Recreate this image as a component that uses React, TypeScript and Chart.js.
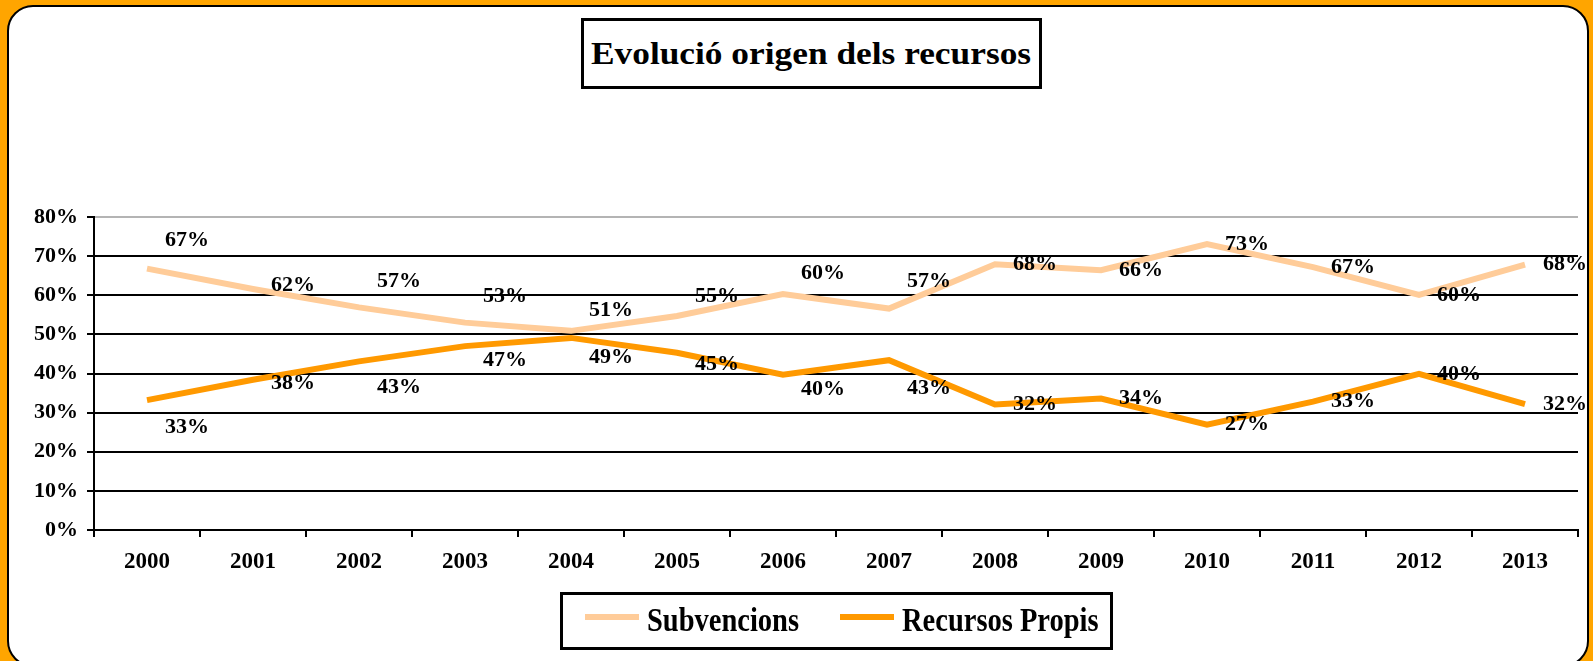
import React, { useEffect, useRef } from "react";
import { Chart, registerables } from "chart.js";

Chart.register(...registerables);

const YEARS = ["2000", "2001", "2002", "2003", "2004", "2005", "2006", "2007", "2008", "2009", "2010", "2011", "2012", "2013"];
const SUBVENCIONS = [66.8, 61.6, 56.9, 53.0, 50.9, 54.7, 60.3, 56.6, 67.9, 66.4, 73.1, 67.2, 60.1, 67.8];
const RECURSOS_PROPIS = [33.2, 38.4, 43.1, 47.0, 49.1, 45.3, 39.7, 43.4, 32.1, 33.6, 26.9, 32.8, 39.9, 32.2];
const SERIES_NAMES = ["Subvencions", "Recursos Propis"];
const TITLE = "Evolució origen dels recursos";

// vertical shift of each data label (label layout, px)
const SUB_LABEL_SHIFT = [-28, -4, -26, -26, -21, -20, -21, -27, 0, 0, 0, 0, 0, 0];
const PROPIS_LABEL_SHIFT = [27, 4, 26, 14, 19, 12, 15, 28, 0, 0, 0, 0, 0, 0];

const FONT = "'Liberation Serif', 'Times New Roman', serif";
const C_SUB = "#FFCC99";
const C_PROPIS = "#FF9900";

const labelPlugin = {
  id: "pointLabels",
  afterDatasetsDraw(chart: any) {
    const ctx = chart.ctx;
    const shifts = [SUB_LABEL_SHIFT, PROPIS_LABEL_SHIFT];
    ctx.save();
    ctx.font = `bold 22px ${FONT}`;
    ctx.fillStyle = "#000";
    ctx.textAlign = "center";
    ctx.textBaseline = "middle";
    chart.data.datasets.forEach((ds: any, di: number) => {
      const meta = chart.getDatasetMeta(di);
      meta.data.forEach((pt: any, i: number) => {
        ctx.fillText(Math.round(ds.data[i]) + "%", pt.x + 40, pt.y + shifts[di][i]);
      });
    });
    ctx.restore();
  },
};

export default function App() {
  const ref = useRef<HTMLCanvasElement>(null);

  useEffect(() => {
    if (!ref.current) return;
    const chart = new Chart(ref.current, {
      type: "line",
      data: {
        labels: YEARS,
        datasets: [
          {
            label: SERIES_NAMES[0],
            data: SUBVENCIONS,
            borderColor: C_SUB,
            backgroundColor: C_SUB,
            borderWidth: 6,
            pointRadius: 0,
            tension: 0,
          },
          {
            label: SERIES_NAMES[1],
            data: RECURSOS_PROPIS,
            borderColor: C_PROPIS,
            backgroundColor: C_PROPIS,
            borderWidth: 6,
            pointRadius: 0,
            tension: 0,
          },
        ],
      },
      options: {
        responsive: false,
        animation: false,
        events: [],
        layout: { padding: { left: 0, top: 217, right: 15, bottom: 0 } },
        plugins: {
          legend: { display: false },
          title: { display: false },
          tooltip: { enabled: false },
        },
        scales: {
          x: {
            offset: true,
            afterFit: (s: any) => {
              s.height = 131;
            },
            grid: {
              offset: true,
              drawOnChartArea: false,
              drawTicks: true,
              tickLength: 7,
              color: "#000",
              lineWidth: 2,
            },
            border: { display: true, color: "#000", width: 2 },
            ticks: {
              color: "#000",
              padding: 11,
              maxRotation: 0,
              autoSkip: false,
              font: { family: FONT, size: 23, weight: "bold" },
            },
          },
          y: {
            min: 0,
            max: 80,
            afterFit: (s: any) => {
              s.width = 94;
            },
            grid: {
              color: (c: any) => (c.tick && c.tick.value === 80 ? "#b4b4b4" : "#000"),
              tickColor: "#000",
              lineWidth: 2,
              tickLength: 7,
            },
            border: { display: true, color: "#000", width: 2 },
            ticks: {
              stepSize: 10,
              color: "#000",
              padding: 9,
              callback: (v: any) => v + "%",
              font: { family: FONT, size: 22, weight: "bold" },
            },
          },
        },
      },
      plugins: [labelPlugin],
    });
    return () => chart.destroy();
  }, []);

  return (
    <div
      style={{
        position: "absolute",
        left: 0,
        top: 0,
        width: 1593,
        height: 661,
        overflow: "hidden",
        background: "#FFA500",
        fontFamily: FONT,
      }}
    >
      <div
        style={{
          position: "absolute",
          left: 7,
          top: 5,
          width: 1582,
          height: 662,
          boxSizing: "border-box",
          background: "#fff",
          border: "2px solid #000",
          borderRadius: 26,
        }}
      />
      <canvas ref={ref} width={1593} height={661} style={{ position: "absolute", left: 0, top: 0 }} />
      <div
        style={{
          position: "absolute",
          left: 581,
          top: 18,
          width: 461,
          height: 71,
          boxSizing: "border-box",
          border: "3px solid #000",
          background: "#fff",
          display: "flex",
          alignItems: "center",
          justifyContent: "center",
          color: "#000",
          whiteSpace: "nowrap",
        }}
      >
        <span style={{ fontWeight: "bold", fontSize: 31, display: "inline-block", transform: "scaleX(1.14)" }}>
          {TITLE}
        </span>
      </div>
      <div
        style={{
          position: "absolute",
          left: 560,
          top: 592,
          width: 553,
          height: 58,
          boxSizing: "border-box",
          border: "3px solid #000",
          background: "#fff",
        }}
      >
        {[
          { name: SERIES_NAMES[0], color: C_SUB, sx: 22, tx: 84 },
          { name: SERIES_NAMES[1], color: C_PROPIS, sx: 277, tx: 339 },
        ].map((it) => (
          <React.Fragment key={it.name}>
            <div
              style={{
                position: "absolute",
                left: it.sx,
                top: 19,
                width: 54,
                height: 6,
                background: it.color,
              }}
            />
            <div
              style={{
                position: "absolute",
                left: it.tx,
                top: 0,
                height: 52,
                display: "flex",
                alignItems: "center",
                fontWeight: "bold",
                fontSize: 28.5,
                color: "#000",
                whiteSpace: "nowrap",
                transform: "scaleY(1.15)",
              }}
            >
              {it.name}
            </div>
          </React.Fragment>
        ))}
      </div>
    </div>
  );
}
